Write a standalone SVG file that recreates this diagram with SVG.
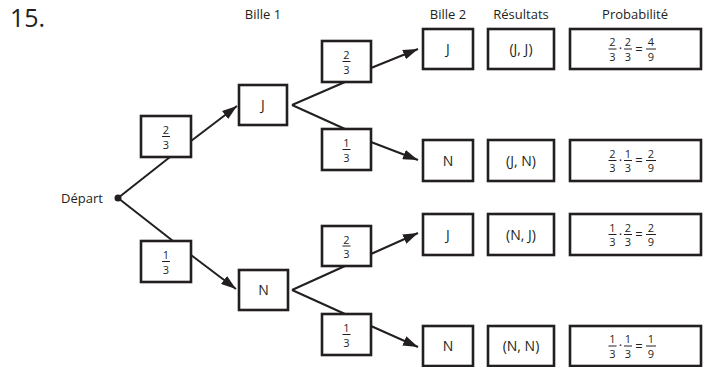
<svg xmlns="http://www.w3.org/2000/svg" width="703" height="367" viewBox="0 0 703 367">
  <style>
    text { font-family: "Open Sans", "Noto Sans", sans-serif; fill: #231f20; }
    .hdr { font-size: 13px; text-anchor: middle; }
    .lbl { font-size: 14px; text-anchor: middle; }
    .fr { font-size: 11px; text-anchor: middle; }
    .op { font-size: 13px; text-anchor: middle; }
    .box { fill: #fff; stroke: #231f20; stroke-width: 2.6; }
    .bar { stroke: #231f20; stroke-width: 1; }
    .edge { fill: none; stroke: #231f20; stroke-width: 2; }
  </style>
  <defs>
    <marker id="arrow" viewBox="0 0 15 10" refX="15" refY="5" markerWidth="15" markerHeight="10" markerUnits="userSpaceOnUse" orient="auto">
      <path d="M0,0 L15,5 L0,10 z" fill="#231f20"/>
    </marker>
  </defs>

  <!-- title and column headings -->
  <text x="10" y="27" style="font-size:25px">15.</text>
  <text class="hdr" x="263" y="19">Bille 1</text>
  <text class="hdr" x="448" y="19">Bille 2</text>
  <text class="hdr" x="521" y="19">Résultats</text>
  <text class="hdr" x="635" y="19">Probabilité</text>

  <!-- connectors -->
  <g id="connectors">
    <line class="edge" x1="118" y1="198" x2="170" y2="157"/>
    <line class="edge" x1="191" y1="141" x2="237" y2="106" marker-end="url(#arrow)"/>
    <line class="edge" x1="118" y1="198" x2="173" y2="241"/>
    <line class="edge" x1="191" y1="255" x2="236" y2="289" marker-end="url(#arrow)"/>

    <line class="edge" x1="292" y1="105" x2="345" y2="82"/>
    <line class="edge" x1="292" y1="105" x2="345" y2="129"/>
    <line class="edge" x1="371" y1="68" x2="418" y2="49" marker-end="url(#arrow)"/>
    <line class="edge" x1="371" y1="142" x2="418" y2="160" marker-end="url(#arrow)"/>

    <line class="edge" x1="292" y1="290" x2="345" y2="266"/>
    <line class="edge" x1="292" y1="290" x2="345" y2="314"/>
    <line class="edge" x1="371" y1="254" x2="418" y2="233" marker-end="url(#arrow)"/>
    <line class="edge" x1="371" y1="326" x2="418" y2="347" marker-end="url(#arrow)"/>
  </g>

  <!-- start point -->
  <g id="depart">
    <circle cx="118" cy="198" r="3.5" fill="#231f20"/>
    <text class="hdr" x="82" y="203">Départ</text>
  </g>

  <!-- first draw: branch probabilities -->
  <g id="p1-j">
    <rect class="box" x="141" y="116" width="50" height="41"/>
    <text class="fr" x="166" y="134">2</text>
    <line class="bar" x1="162" y1="136.5" x2="170" y2="136.5"/>
    <text class="fr" x="166" y="148.5">3</text>
  </g>
  <g id="p1-n">
    <rect class="box" x="141" y="241" width="50" height="41"/>
    <text class="fr" x="166" y="259">1</text>
    <line class="bar" x1="162" y1="261.5" x2="170" y2="261.5"/>
    <text class="fr" x="166" y="273.5">3</text>
  </g>

  <!-- first draw: outcomes -->
  <g id="b1-j">
    <rect class="box" x="239" y="85" width="48" height="40"/>
    <text class="lbl" x="263" y="110">J</text>
  </g>
  <g id="b1-n">
    <rect class="box" x="239" y="270" width="49" height="40"/>
    <text class="lbl" x="263.5" y="295">N</text>
  </g>

  <!-- second draw: branch probabilities -->
  <g id="p2-jj">
    <rect class="box" x="322" y="41" width="49" height="41"/>
    <text class="fr" x="346.5" y="59">2</text>
    <line class="bar" x1="342.5" y1="61.5" x2="350.5" y2="61.5"/>
    <text class="fr" x="346.5" y="73.5">3</text>
  </g>
  <g id="p2-jn">
    <rect class="box" x="322" y="129" width="49" height="41"/>
    <text class="fr" x="346.5" y="147">1</text>
    <line class="bar" x1="342.5" y1="149.5" x2="350.5" y2="149.5"/>
    <text class="fr" x="346.5" y="161.5">3</text>
  </g>
  <g id="p2-nj">
    <rect class="box" x="322" y="226" width="49" height="40"/>
    <text class="fr" x="346.5" y="243.5">2</text>
    <line class="bar" x1="342.5" y1="246" x2="350.5" y2="246"/>
    <text class="fr" x="346.5" y="258">3</text>
  </g>
  <g id="p2-nn">
    <rect class="box" x="322" y="314" width="49" height="41"/>
    <text class="fr" x="346.5" y="332">1</text>
    <line class="bar" x1="342.5" y1="334.5" x2="350.5" y2="334.5"/>
    <text class="fr" x="346.5" y="346.5">3</text>
  </g>

  <!-- second draw: outcomes -->
  <g id="b2-jj">
    <rect class="box" x="423" y="29" width="50" height="40"/>
    <text class="lbl" x="448" y="54">J</text>
  </g>
  <g id="b2-jn">
    <rect class="box" x="423" y="140" width="50" height="41"/>
    <text class="lbl" x="448" y="165.5">N</text>
  </g>
  <g id="b2-nj">
    <rect class="box" x="423" y="214" width="50" height="41"/>
    <text class="lbl" x="448" y="239.5">J</text>
  </g>
  <g id="b2-nn">
    <rect class="box" x="423" y="326" width="50" height="40"/>
    <text class="lbl" x="448" y="351">N</text>
  </g>

  <!-- results -->
  <g id="r-jj">
    <rect class="box" x="488" y="29" width="66" height="40"/>
    <text class="lbl" x="521" y="54">(J, J)</text>
  </g>
  <g id="r-jn">
    <rect class="box" x="488" y="140" width="66" height="41"/>
    <text class="lbl" x="521" y="165.5">(J, N)</text>
  </g>
  <g id="r-nj">
    <rect class="box" x="488" y="214" width="66" height="41"/>
    <text class="lbl" x="521" y="239.5">(N, J)</text>
  </g>
  <g id="r-nn">
    <rect class="box" x="488" y="326" width="66" height="40"/>
    <text class="lbl" x="521" y="351">(N, N)</text>
  </g>

  <!-- probabilities: products of the two branch fractions -->
  <g id="q-jj">
    <rect class="box" x="570" y="29" width="131" height="40"/>
    <text class="fr" x="612.5" y="46">2</text>
    <line class="bar" x1="608.5" y1="49" x2="616.5" y2="49"/>
    <text class="fr" x="612.5" y="60.5">3</text>
    <text class="op" x="620.5" y="53">·</text>
    <text class="fr" x="628" y="46">2</text>
    <line class="bar" x1="624" y1="49" x2="632" y2="49"/>
    <text class="fr" x="628" y="60.5">3</text>
    <text class="op" x="639" y="53.5">=</text>
    <text class="fr" x="651" y="46">4</text>
    <line class="bar" x1="646" y1="49" x2="656" y2="49"/>
    <text class="fr" x="651" y="60.5">9</text>
  </g>
  <g id="q-jn">
    <rect class="box" x="570" y="140" width="131" height="41"/>
    <text class="fr" x="612.5" y="157.5">2</text>
    <line class="bar" x1="608.5" y1="160.5" x2="616.5" y2="160.5"/>
    <text class="fr" x="612.5" y="172">3</text>
    <text class="op" x="620.5" y="164.5">·</text>
    <text class="fr" x="628" y="157.5">1</text>
    <line class="bar" x1="624" y1="160.5" x2="632" y2="160.5"/>
    <text class="fr" x="628" y="172">3</text>
    <text class="op" x="639" y="165">=</text>
    <text class="fr" x="651" y="157.5">2</text>
    <line class="bar" x1="646" y1="160.5" x2="656" y2="160.5"/>
    <text class="fr" x="651" y="172">9</text>
  </g>
  <g id="q-nj">
    <rect class="box" x="570" y="214" width="131" height="41"/>
    <text class="fr" x="612.5" y="231.5">1</text>
    <line class="bar" x1="608.5" y1="234.5" x2="616.5" y2="234.5"/>
    <text class="fr" x="612.5" y="246">3</text>
    <text class="op" x="620.5" y="238.5">·</text>
    <text class="fr" x="628" y="231.5">2</text>
    <line class="bar" x1="624" y1="234.5" x2="632" y2="234.5"/>
    <text class="fr" x="628" y="246">3</text>
    <text class="op" x="639" y="239">=</text>
    <text class="fr" x="651" y="231.5">2</text>
    <line class="bar" x1="646" y1="234.5" x2="656" y2="234.5"/>
    <text class="fr" x="651" y="246">9</text>
  </g>
  <g id="q-nn">
    <rect class="box" x="570" y="326" width="131" height="40"/>
    <text class="fr" x="612.5" y="343">1</text>
    <line class="bar" x1="608.5" y1="346" x2="616.5" y2="346"/>
    <text class="fr" x="612.5" y="357.5">3</text>
    <text class="op" x="620.5" y="350">·</text>
    <text class="fr" x="628" y="343">1</text>
    <line class="bar" x1="624" y1="346" x2="632" y2="346"/>
    <text class="fr" x="628" y="357.5">3</text>
    <text class="op" x="639" y="350.5">=</text>
    <text class="fr" x="651" y="343">1</text>
    <line class="bar" x1="646" y1="346" x2="656" y2="346"/>
    <text class="fr" x="651" y="357.5">9</text>
  </g>
</svg>
